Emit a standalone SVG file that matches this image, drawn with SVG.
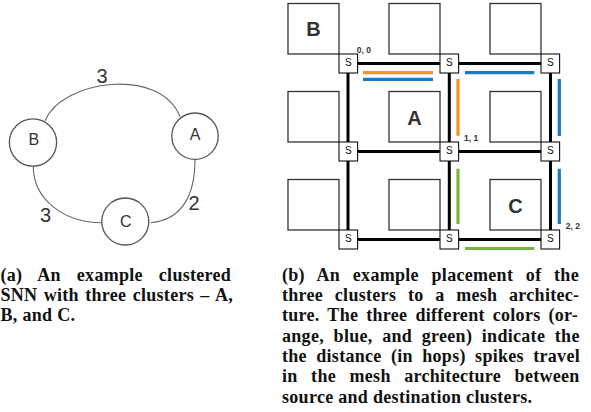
<svg xmlns="http://www.w3.org/2000/svg" width="591" height="412" viewBox="0 0 591 412">
<style>
.circ{fill:#fff;stroke:#555;stroke-width:1.3}
.arc{fill:none;stroke:#666;stroke-width:1.1}
.lbl{font-family:"Liberation Sans",Arial,sans-serif;fill:#333;text-anchor:middle}
.nl{font-size:16px}
.el{font-size:20px}
.cl{fill:#fff;stroke:#333;stroke-width:1.3}
.sw{fill:#fff;stroke:#111;stroke-width:1.1}
.st{font-family:"Liberation Sans",Arial,sans-serif;font-size:10px;fill:#111;text-anchor:middle}
.big{font-family:"Liberation Sans",Arial,sans-serif;font-size:20px;font-weight:bold;fill:#333;text-anchor:middle}
.co{font-family:"Liberation Sans",Arial,sans-serif;font-size:8.5px;font-weight:bold;fill:#333}
.mesh{stroke:#000;stroke-width:3;fill:none}
.or{stroke:#f39121;stroke-width:3.2;fill:none}
.bl{stroke:#1a7abf;stroke-width:3.2;fill:none}
.gr{stroke:#77b343;stroke-width:3.2;fill:none}
.cap{font-family:"Liberation Serif","Times New Roman",serif;font-size:18px;font-weight:bold;fill:#111;letter-spacing:0.3px}
</style>
<rect width="591" height="412" fill="#fff"/>

<!-- (a) clustered SNN -->
<g id="connectors-a">
  <path class="arc" d="M45,120.7 C62,80 160,66 180,116.7"/>
  <path class="arc" d="M33.3,166 C33,200 65,222.7 101.7,222.7"/>
  <path class="arc" d="M195,159.4 C195,195 182,220 150.7,222.7"/>
  <text class="lbl el" x="102" y="83.3">3</text>
  <text class="lbl el" x="45.5" y="221.7">3</text>
  <text class="lbl el" x="194" y="210">2</text>
</g>
<g id="node-A">
  <circle class="circ" cx="195" cy="136.2" r="23.2"/>
  <text class="lbl nl" x="195" y="140">A</text>
</g>
<g id="node-B">
  <circle class="circ" cx="33" cy="142.5" r="23.6"/>
  <text class="lbl nl" x="33.8" y="145.3">B</text>
</g>
<g id="node-C">
  <circle class="circ" cx="125.3" cy="221.5" r="23.5"/>
  <text class="lbl nl" x="125.8" y="226.5">C</text>
</g>

<!-- (b) mesh -->
<g id="clusters">
  <g id="cluster-B"><rect class="cl" x="288" y="3.5" width="51" height="50.5"/><text class="big" x="313.5" y="35.5">B</text></g>
  <g id="cluster-01"><rect class="cl" x="389" y="3.5" width="51" height="50.5"/></g>
  <g id="cluster-02"><rect class="cl" x="490" y="3.5" width="51" height="50.5"/></g>
  <g id="cluster-10"><rect class="cl" x="288" y="91.5" width="51" height="50.5"/></g>
  <g id="cluster-A"><rect class="cl" x="389" y="91.5" width="51" height="50.5"/><text class="big" x="414.5" y="124.5">A</text></g>
  <g id="cluster-12"><rect class="cl" x="490" y="91.5" width="51" height="50.5"/></g>
  <g id="cluster-20"><rect class="cl" x="288" y="179.5" width="51" height="50.5"/></g>
  <g id="cluster-21"><rect class="cl" x="389" y="179.5" width="51" height="50.5"/></g>
  <g id="cluster-C"><rect class="cl" x="490" y="179.5" width="51" height="50.5"/><text class="big" x="515.5" y="212.5">C</text></g>
</g>
<g id="connectors-b">
  <path class="mesh" d="M348,63.5 H550.5 M348,151.5 H550.5 M348,239.5 H550.5 M348,63.5 V239.5 M449.3,63.5 V239.5 M550.5,63.5 V239.5"/>
  <path class="or" d="M363,72.7 H433 M458,79 V135.7"/>
  <path class="bl" d="M363,79.3 H433 M465,72.7 H534.3 M559.3,79 V136 M559.3,168.7 V224"/>
  <path class="gr" d="M458,168.7 V224 M465,248.5 H534.3"/>
</g>
<g id="switches">
  <g id="s-00"><rect class="sw" x="339" y="54" width="18.6" height="19"/><text class="st" x="348.3" y="65.7">S</text></g>
  <g id="s-01"><rect class="sw" x="440" y="54" width="18.6" height="19"/><text class="st" x="449.3" y="65.7">S</text></g>
  <g id="s-02"><rect class="sw" x="541" y="54" width="18.6" height="19"/><text class="st" x="550.3" y="65.7">S</text></g>
  <g id="s-10"><rect class="sw" x="339" y="142" width="18.6" height="19"/><text class="st" x="348.3" y="153.7">S</text></g>
  <g id="s-11"><rect class="sw" x="440" y="142" width="18.6" height="19"/><text class="st" x="449.3" y="153.7">S</text></g>
  <g id="s-12"><rect class="sw" x="541" y="142" width="18.6" height="19"/><text class="st" x="550.3" y="153.7">S</text></g>
  <g id="s-20"><rect class="sw" x="339" y="230" width="18.6" height="19"/><text class="st" x="348.3" y="241.7">S</text></g>
  <g id="s-21"><rect class="sw" x="440" y="230" width="18.6" height="19"/><text class="st" x="449.3" y="241.7">S</text></g>
  <g id="s-22"><rect class="sw" x="541" y="230" width="18.6" height="19"/><text class="st" x="550.3" y="241.7">S</text></g>
</g>
<g id="coords">
  <text class="co" x="356.7" y="52.7">0, 0</text>
  <text class="co" x="464" y="141">1, 1</text>
  <text class="co" x="565.7" y="229.3">2, 2</text>
</g>

<!-- captions -->
<g id="caption-a">
  <text class="cap" x="0.5" y="280.7" word-spacing="11.1">(a) An example clustered</text>
  <text class="cap" x="0.5" y="301" word-spacing="1.5">SNN with three clusters – A,</text>
  <text class="cap" x="0.5" y="321.3">B, and C.</text>
</g>
<g id="caption-b">
  <text class="cap" x="282" y="280.7" word-spacing="7.84">(b) An example placement of the</text>
  <text class="cap" x="282" y="301" word-spacing="6.88">three clusters to a mesh architec-</text>
  <text class="cap" x="282" y="321.3" word-spacing="3.2">ture. The three different colors (or-</text>
  <text class="cap" x="282" y="341.6" word-spacing="4.8">ange, blue, and green) indicate the</text>
  <text class="cap" x="282" y="362" word-spacing="4.54">the distance (in hops) spikes travel</text>
  <text class="cap" x="282" y="382.3" word-spacing="8.7">in the mesh architecture between</text>
  <text class="cap" x="282" y="402.6">source and destination clusters.</text>
</g>
</svg>
